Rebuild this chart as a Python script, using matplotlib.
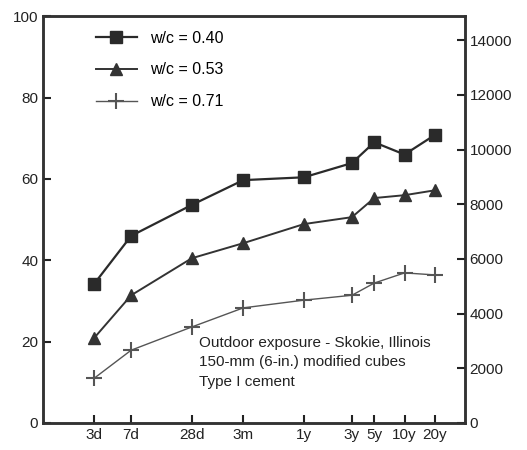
import matplotlib.pyplot as plt

# age of concrete in days, with the tick labels used on the chart
age_days = [3, 7, 28, 91, 365, 1095, 1825, 3650, 7300]
age_labels = ['3d', '7d', '28d', '3m', '1y', '3y', '5y', '10y', '20y']

# compressive strength, MPa
wc_040 = [34.2, 46.0, 53.6, 59.7, 60.4, 63.9, 69.0, 66.0, 70.8]
wc_053 = [20.9, 31.4, 40.5, 44.2, 48.9, 50.6, 55.3, 56.0, 57.2]
wc_071 = [11.0, 17.9, 23.6, 28.3, 30.2, 31.4, 34.4, 36.9, 36.4]

plt.rcParams['font.family'] = ['Liberation Sans', 'DejaVu Sans']

fig = plt.figure(figsize=(5.27, 4.5), dpi=100)
ax = fig.add_axes([0.082, 0.06, 0.8, 0.904])

ax.plot(age_days, wc_040, color='#2a2a2a', linewidth=1.6, marker='s',
        markersize=9, label='w/c = 0.40')
ax.plot(age_days, wc_053, color='#333333', linewidth=1.4, marker='^',
        markersize=9, label='w/c = 0.53')
ax.plot(age_days, wc_071, color='#555555', linewidth=1.0, marker='+',
        markersize=11, markeredgewidth=1.5, label='w/c = 0.71')

ax.set_xscale('log')
ax.set_xlim(0.935, 14500)
ax.set_xticks(age_days)
ax.set_xticklabels(age_labels)
ax.minorticks_off()
ax.set_ylim(0, 100)
ax.set_yticks([0, 20, 40, 60, 80, 100])
ax.tick_params(direction='in', length=6, width=1.5, labelsize=11, colors='#222222')

for s in ax.spines.values():
    s.set_linewidth(1.8)
    s.set_color('#333333')

ax2 = ax.twinx()
ax2.set_ylim(0, 14880)
ax2.set_yticks([0, 2000, 4000, 6000, 8000, 10000, 12000, 14000])
ax2.tick_params(direction='in', length=6, width=1.5, labelsize=11, colors='#222222')
for s in ax2.spines.values():
    s.set_linewidth(1.8)
    s.set_color('#333333')

ax.legend(loc='upper left', bbox_to_anchor=(0.09, 1.0), frameon=False,
          fontsize=11.5, handlelength=2.6, labelspacing=1.05)

ax.text(0.37, 0.215, 'Outdoor exposure - Skokie, Illinois\n150-mm (6-in.) modified cubes\nType I cement',
        transform=ax.transAxes, fontsize=11, color='#222222',
        linespacing=1.5, va='top')

fig.savefig('out.png', dpi=100)
